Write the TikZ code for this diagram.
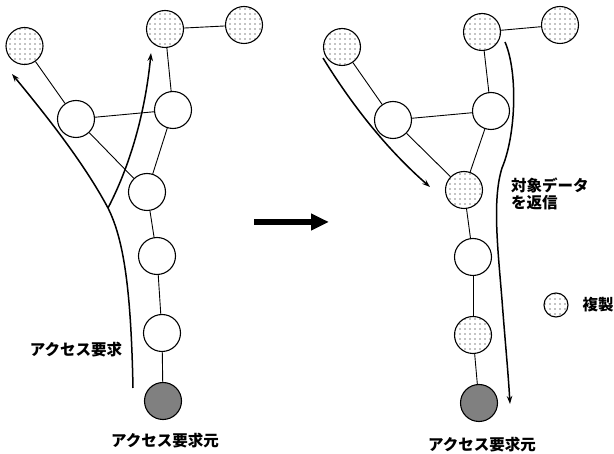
\documentclass[tikz,border=0pt]{standalone}
\usepackage{fontspec}
\newfontfamily\jp{Noto Sans CJK JP}
\usetikzlibrary{arrows.meta,patterns.meta}
\begin{document}
\begin{tikzpicture}[x=1pt,y=-1pt,
  nd/.style={circle,draw,line width=1.1pt,minimum size=37pt,inner sep=0pt},
  rep/.style={nd,pattern={Dots[distance=5pt,radius=0.6pt]}},
  org/.style={nd,fill=black!50},
  edge/.style={line width=0.9pt},
  flow/.style={line width=1.5pt,-{Stealth[length=8pt,width=5.5pt]}},
  lbl/.style={font=\jp\bfseries\fontsize{15.5}{17}\selectfont,inner sep=0pt}]
\useasboundingbox (0,0) rectangle (614,454);
% left
\node[rep] (A) at (24.5,46) {};
\node[rep] (B) at (165,29) {};
\node[rep] (C) at (244,25) {};
\node[nd] (D) at (76,119) {};
\node[nd] (E) at (173,110) {};
\node[nd] (F) at (147,192) {};
\node[nd] (G) at (157,256) {};
\node[nd] (H) at (162,333) {};
\node[org] (I) at (163,401) {};
\draw[edge] (A) -- (D);
\draw[edge] (B) -- (C);
\draw[edge] (B) -- (E);
\draw[edge] (D) -- (E);
\draw[edge] (D) -- (F);
\draw[edge] (E) -- (F);
\draw[edge] (F) -- (G);
\draw[edge] (G) -- (H);
\draw[edge] (H) -- (I);
\coordinate (ls) at (133,388);
\coordinate (lb) at (108,208);
\coordinate (lt1) at (12,74);
\coordinate (lt2) at (151,53);
\draw[flow] (ls) .. controls (131,290) and (124,240) .. (lb) .. controls (85,165) and (50,120) .. (lt1);
\draw[flow] (lb) .. controls (133,160) and (146,105) .. (lt2);
\node[lbl] (req) at (76,350) {アクセス要求};
\node[lbl] (src1) at (165,441) {アクセス要求元};
% big arrow
\coordinate (ba) at (254,222);
\coordinate (bb) at (329,222);
\draw[line width=5.5pt,-{Triangle[length=18pt,width=16pt]}] (ba) -- (bb);
% right
\node[rep] (A2) at (342,47) {};
\node[rep] (B2) at (482,32) {};
\node[rep] (C2) at (560,25) {};
\node[nd] (D2) at (393,120) {};
\node[nd] (E2) at (491,111) {};
\node[rep] (F2) at (464,190) {};
\node[nd] (G2) at (473,257) {};
\node[rep] (H2) at (473,335) {};
\node[org] (I2) at (479,403) {};
\draw[edge] (A2) -- (D2);
\draw[edge] (B2) -- (C2);
\draw[edge] (B2) -- (E2);
\draw[edge] (D2) -- (E2);
\draw[edge] (D2) -- (F2);
\draw[edge] (E2) -- (F2);
\draw[edge] (F2) -- (G2);
\draw[edge] (G2) -- (H2);
\draw[edge] (H2) -- (I2);
\coordinate (rs1) at (323,58);
\coordinate (rt1) at (430,187);
\draw[flow] (rs1) .. controls (355,110) and (390,152) .. (rt1);
\coordinate (rs2) at (505,42);
\coordinate (rm2) at (502,168);
\coordinate (rt2) at (510,404);
\draw[flow] (rs2) .. controls (518,72) and (516,135) .. (rm2) .. controls (492,200) and (498,250) .. (502,300) .. controls (505,340) and (508,370) .. (rt2);
\node[lbl,anchor=north west,align=left] (ret) at (511,178) {対象データ\\を返信};
\node[lbl] (src2) at (482,445) {アクセス要求元};
% legend
\node[rep,minimum size=24pt] (L) at (556,305) {};
\node[lbl] (Lt) at (598,305) {複製};
\end{tikzpicture}
\end{document}
